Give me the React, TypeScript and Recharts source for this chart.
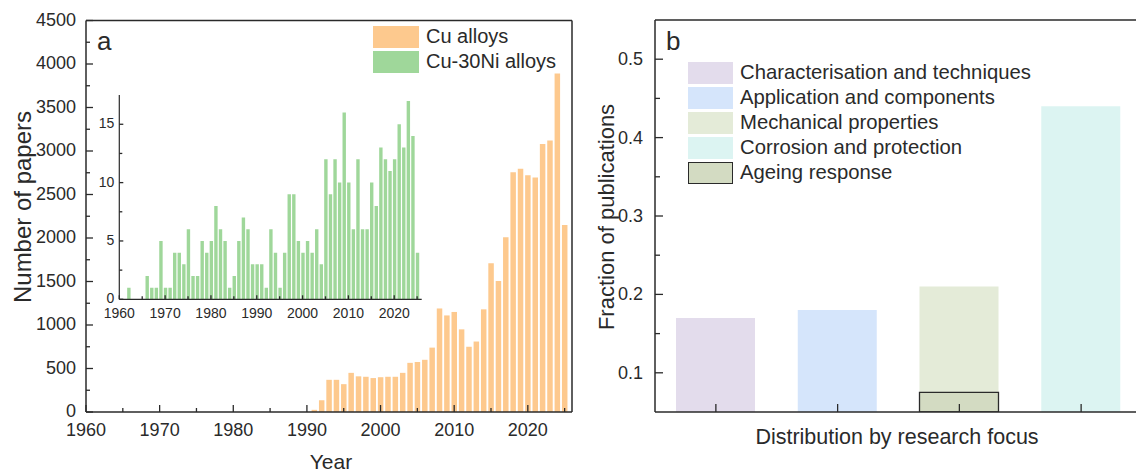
import React from "react";
import { BarChart, Bar, XAxis, YAxis, Legend, Cell, Label } from "recharts";

// ---- data ----
const CU_YEARS = [
  1991, 1992, 1993, 1994, 1995, 1996, 1997, 1998, 1999, 2000,
  2001, 2002, 2003, 2004, 2005, 2006, 2007, 2008, 2009, 2010,
  2011, 2012, 2013, 2014, 2015, 2016, 2017, 2018, 2019, 2020,
  2021, 2022, 2023, 2024, 2025,
];
const CU_PAPERS = [
  25, 135, 370, 370, 320, 450, 410, 405, 390, 400,
  405, 405, 450, 565, 575, 600, 740, 1190, 1110, 1150,
  950, 750, 810, 1180, 1710, 1505, 2010, 2755, 2795, 2720,
  2695, 3080, 3120, 3890, 2150,
];

const NI_YEARS = [
  1962, 1963, 1964, 1965, 1966, 1967, 1968, 1969, 1970, 1971,
  1972, 1973, 1974, 1975, 1976, 1977, 1978, 1979, 1980, 1981,
  1982, 1983, 1984, 1985, 1986, 1987, 1988, 1989, 1990, 1991,
  1992, 1993, 1994, 1995, 1996, 1997, 1998, 1999, 2000, 2001,
  2002, 2003, 2004, 2005, 2006, 2007, 2008, 2009, 2010, 2011,
  2012, 2013, 2014, 2015, 2016, 2017, 2018, 2019, 2020, 2021,
  2022, 2023, 2024, 2025,
];
const NI_PAPERS = [
  1, 0, 0, 0, 2, 1, 1, 5, 1, 1,
  4, 4, 3, 6, 2, 2, 5, 4, 5, 8,
  6, 5, 1, 2, 5, 7, 6, 3, 3, 3,
  1, 6, 4, 1, 4, 9, 9, 5, 4, 5,
  4, 6, 3, 12, 9, 12, 10, 16, 10, 6,
  12, 6, 6, 10, 8, 13, 12, 11, 12, 15,
  13, 17, 14, 4,
];

const YEAR_TICKS = [1960, 1965, 1970, 1975, 1980, 1985, 1990, 1995, 2000, 2005, 2010, 2015, 2020, 2025];
const PAPER_TICKS = [0, 250, 500, 750, 1000, 1250, 1500, 1750, 2000, 2250, 2500, 2750, 3000, 3250, 3500, 3750, 4000, 4250, 4500];
const INSET_TICKS = [0, 2.5, 5, 7.5, 10, 12.5, 15];

const FOCUS = [
  "Characterisation and techniques",
  "Application and components",
  "Mechanical properties",
  "Corrosion and protection",
];
const FOCUS_FRACTION = [0.17, 0.18, 0.21, 0.44];
const AGEING_FRACTION = [null, null, 0.075, null];
const FRACTION_TICKS = [0.1, 0.15, 0.2, 0.25, 0.3, 0.35, 0.4, 0.45, 0.5];

const FONT = "'Liberation Sans', Arial, Helvetica, sans-serif";
const INK = "#2a2a2a";
const CU_COLOR = "#fdc98e";
const NI_COLOR = "#9fd79a";
const FOCUS_COLORS = ["#e3dcec", "#d5e5fb", "#e4ebd8", "#dcf4f2"];
const AGEING_COLOR = "#d3dbc2";

const cuData = CU_YEARS.map((year, i) => ({ year, cu: CU_PAPERS[i] }));
const niData = NI_YEARS.map((year, i) => ({ year, ni: NI_PAPERS[i] }));
const focusData = FOCUS.map((name, i) => ({
  name,
  fraction: FOCUS_FRACTION[i],
  ageing: AGEING_FRACTION[i],
}));

// inward ticks, labels only on the major ones
const bottomTick =
  (isMajor: (v: any) => boolean, major: number, minor: number, fs: number, dy: number, showLabel = true) =>
  (props: any) => {
    const { x, y, payload } = props;
    const maj = isMajor(payload.value);
    return (
      <g>
        <line x1={x} x2={x} y1={y} y2={y - (maj ? major : minor)} stroke={INK} strokeWidth={1.3} />
        {maj && showLabel && (
          <text x={x} y={y + dy} textAnchor="middle" dominantBaseline="central" fontSize={fs} fill={INK} fontFamily={FONT}>
            {payload.value}
          </text>
        )}
      </g>
    );
  };

const leftTick =
  (isMajor: (v: any) => boolean, major: number, minor: number, fs: number, dx: number, dy = 0, fmt = (v: any) => String(v)) =>
  (props: any) => {
    const { x, y, payload } = props;
    const maj = isMajor(payload.value);
    return (
      <g>
        <line x1={x} x2={x + (maj ? major : minor)} y1={y} y2={y} stroke={INK} strokeWidth={1.3} />
        {maj && (
          <text x={x - dx} y={y + dy} textAnchor="end" dominantBaseline="central" fontSize={fs} fill={INK} fontFamily={FONT}>
            {fmt(payload.value)}
          </text>
        )}
      </g>
    );
  };

const legendRows = (rows: { label: string; color: string; border?: boolean }[], fs: number, boxW: number) => () =>
  (
    <div style={{ fontFamily: FONT, fontSize: fs, color: INK }}>
      {rows.map((r) => (
        <div key={r.label} style={{ display: "flex", alignItems: "center", height: 25 }}>
          <div
            style={{
              width: boxW,
              height: 22,
              background: r.color,
              boxSizing: "border-box",
              border: r.border ? `1.3px solid ${INK}` : "none",
              marginRight: 7,
            }}
          />
          <span style={{ whiteSpace: "nowrap" }}>{r.label}</span>
        </div>
      ))}
    </div>
  );

function PanelA() {
  return (
    <div style={{ position: "absolute", left: 0, top: 0 }}>
      <BarChart width={600} height={473} data={cuData} margin={{ top: 19.5, right: 27, bottom: 31, left: 26 }}>
        <XAxis
          dataKey="year"
          type="number"
          domain={[1960, 2026]}
          ticks={YEAR_TICKS}
          interval={0}
          allowDataOverflow
          height={30}
          tickSize={0}
          tickMargin={0}
          tickLine={false}
          axisLine={{ stroke: INK, strokeWidth: 1.5 }}
          tick={bottomTick((v) => v % 10 === 0, 7, 4, 18, 17.5)}
        >
          <Label
            content={() => (
              <text x={331} y={461} textAnchor="middle" dominantBaseline="central" fontSize={21} fill={INK} fontFamily={FONT}>
                Year
              </text>
            )}
          />
        </XAxis>
        <XAxis xAxisId="top" orientation="top" height={1} tick={false} tickLine={false} axisLine={{ stroke: INK, strokeWidth: 1.5 }} />
        <YAxis
          type="number"
          domain={[0, 4500]}
          ticks={PAPER_TICKS}
          interval={0}
          width={60}
          tickSize={0}
          tickMargin={0}
          tickLine={false}
          axisLine={{ stroke: INK, strokeWidth: 1.5 }}
          tick={leftTick((v) => v % 500 === 0, 7, 4, 18, 10, -1)}
        >
          <Label
            content={() => (
              <text
                x={22}
                y={207}
                transform="rotate(-90 22 207)"
                textAnchor="middle"
                dominantBaseline="central"
                fontSize={24}
                fill={INK}
                fontFamily={FONT}
              >
                Number of papers
              </text>
            )}
          />
        </YAxis>
        <YAxis yAxisId="right" orientation="right" width={1} tick={false} tickLine={false} axisLine={{ stroke: INK, strokeWidth: 1.5 }} />
        <Bar dataKey="cu" fill={CU_COLOR} barSize={5.5} isAnimationActive={false} />
        <Legend
          layout="vertical"
          align="center"
          verticalAlign="middle"
          wrapperStyle={{ left: 373, top: 24, width: "auto", height: "auto" }}
          content={legendRows(
            [
              { label: "Cu alloys", color: CU_COLOR },
              { label: "Cu-30Ni alloys", color: NI_COLOR },
            ],
            20,
            46
          )}
        />
      </BarChart>
      <div style={{ position: "absolute", left: 97, top: 26, fontFamily: FONT, fontSize: 26, color: INK }}>a</div>
    </div>
  );
}

function Inset() {
  return (
    <div style={{ position: "absolute", left: 80, top: 80 }}>
      <BarChart width={360} height={250} data={niData} margin={{ top: 15.1, right: 18.3, bottom: 10.7, left: 9.3 }}>
        <XAxis
          dataKey="year"
          type="number"
          domain={[1960, 2026]}
          ticks={YEAR_TICKS}
          interval={0}
          allowDataOverflow
          height={20}
          tickSize={0}
          tickMargin={0}
          tickLine={false}
          axisLine={{ stroke: INK, strokeWidth: 1.2 }}
          tick={bottomTick((v) => v % 10 === 0, 4, 3, 14, 13.5)}
        />
        <YAxis
          type="number"
          domain={[0, 17.5]}
          ticks={INSET_TICKS}
          interval={0}
          width={30}
          tickSize={0}
          tickMargin={0}
          tickLine={false}
          axisLine={{ stroke: INK, strokeWidth: 1.2 }}
          tick={leftTick((v) => v % 5 === 0, 4, 3, 14, 5, -1)}
        />
        <Bar dataKey="ni" fill={NI_COLOR} barSize={3.4} isAnimationActive={false} />
      </BarChart>
    </div>
  );
}

function PanelB() {
  const left = 560;
  return (
    <div style={{ position: "absolute", left, top: 0 }}>
      <BarChart width={600} height={473} data={focusData} margin={{ top: 19, right: 17, bottom: 31, left: 35 }}>
        <XAxis
          dataKey="name"
          type="category"
          interval={0}
          height={30}
          tickSize={0}
          tickMargin={0}
          tickLine={false}
          axisLine={{ stroke: INK, strokeWidth: 1.5 }}
          tick={bottomTick(() => true, 8, 8, 18, 0, false)}
        >
          <Label
            content={() => (
              <text x={897 - left} y={437} textAnchor="middle" dominantBaseline="central" fontSize={21.5} fill={INK} fontFamily={FONT}>
                Distribution by research focus
              </text>
            )}
          />
        </XAxis>
        <XAxis xAxisId="overlay" dataKey="name" type="category" hide />
        <XAxis xAxisId="top" orientation="top" height={1} tick={false} tickLine={false} axisLine={{ stroke: INK, strokeWidth: 1.5 }} />
        <YAxis
          type="number"
          domain={[0.05, 0.55]}
          ticks={FRACTION_TICKS}
          interval={0}
          allowDataOverflow
          width={60}
          tickSize={0}
          tickMargin={0}
          tickLine={false}
          axisLine={{ stroke: INK, strokeWidth: 1.5 }}
          tick={leftTick((v) => Math.round(v * 100) % 10 === 0, 8, 5, 18, 12, 0, (v) => Number(v).toFixed(1))}
        >
          <Label
            content={() => (
              <text
                x={606 - left}
                y={217}
                transform={`rotate(-90 ${606 - left} 217)`}
                textAnchor="middle"
                dominantBaseline="central"
                fontSize={22}
                fill={INK}
                fontFamily={FONT}
              >
                Fraction of publications
              </text>
            )}
          />
        </YAxis>
        <YAxis yAxisId="right" orientation="right" width={1} tick={false} tickLine={false} axisLine={{ stroke: INK, strokeWidth: 1.5 }} />
        <Bar dataKey="fraction" barSize={79} isAnimationActive={false}>
          {focusData.map((d, i) => (
            <Cell key={d.name} fill={FOCUS_COLORS[i]} />
          ))}
        </Bar>
        <Bar dataKey="ageing" xAxisId="overlay" barSize={79} fill={AGEING_COLOR} stroke={INK} strokeWidth={1.3} isAnimationActive={false} />
        <Legend
          layout="vertical"
          align="center"
          verticalAlign="middle"
          wrapperStyle={{ left: 688 - left, top: 60, width: "auto", height: "auto" }}
          content={legendRows(
            [
              { label: FOCUS[0], color: FOCUS_COLORS[0] },
              { label: FOCUS[1], color: FOCUS_COLORS[1] },
              { label: FOCUS[2], color: FOCUS_COLORS[2] },
              { label: FOCUS[3], color: FOCUS_COLORS[3] },
              { label: "Ageing response", color: AGEING_COLOR, border: true },
            ],
            20.3,
            45
          )}
        />
      </BarChart>
      <div style={{ position: "absolute", left: 666 - left, top: 26, fontFamily: FONT, fontSize: 26, color: INK }}>b</div>
    </div>
  );
}

export default function App() {
  return (
    <div
      style={{
        position: "absolute",
        left: 0,
        top: 0,
        width: 1136,
        height: 473,
        overflow: "hidden",
        background: "#fff",
      }}
    >
      <PanelA />
      <Inset />
      <PanelB />
    </div>
  );
}
